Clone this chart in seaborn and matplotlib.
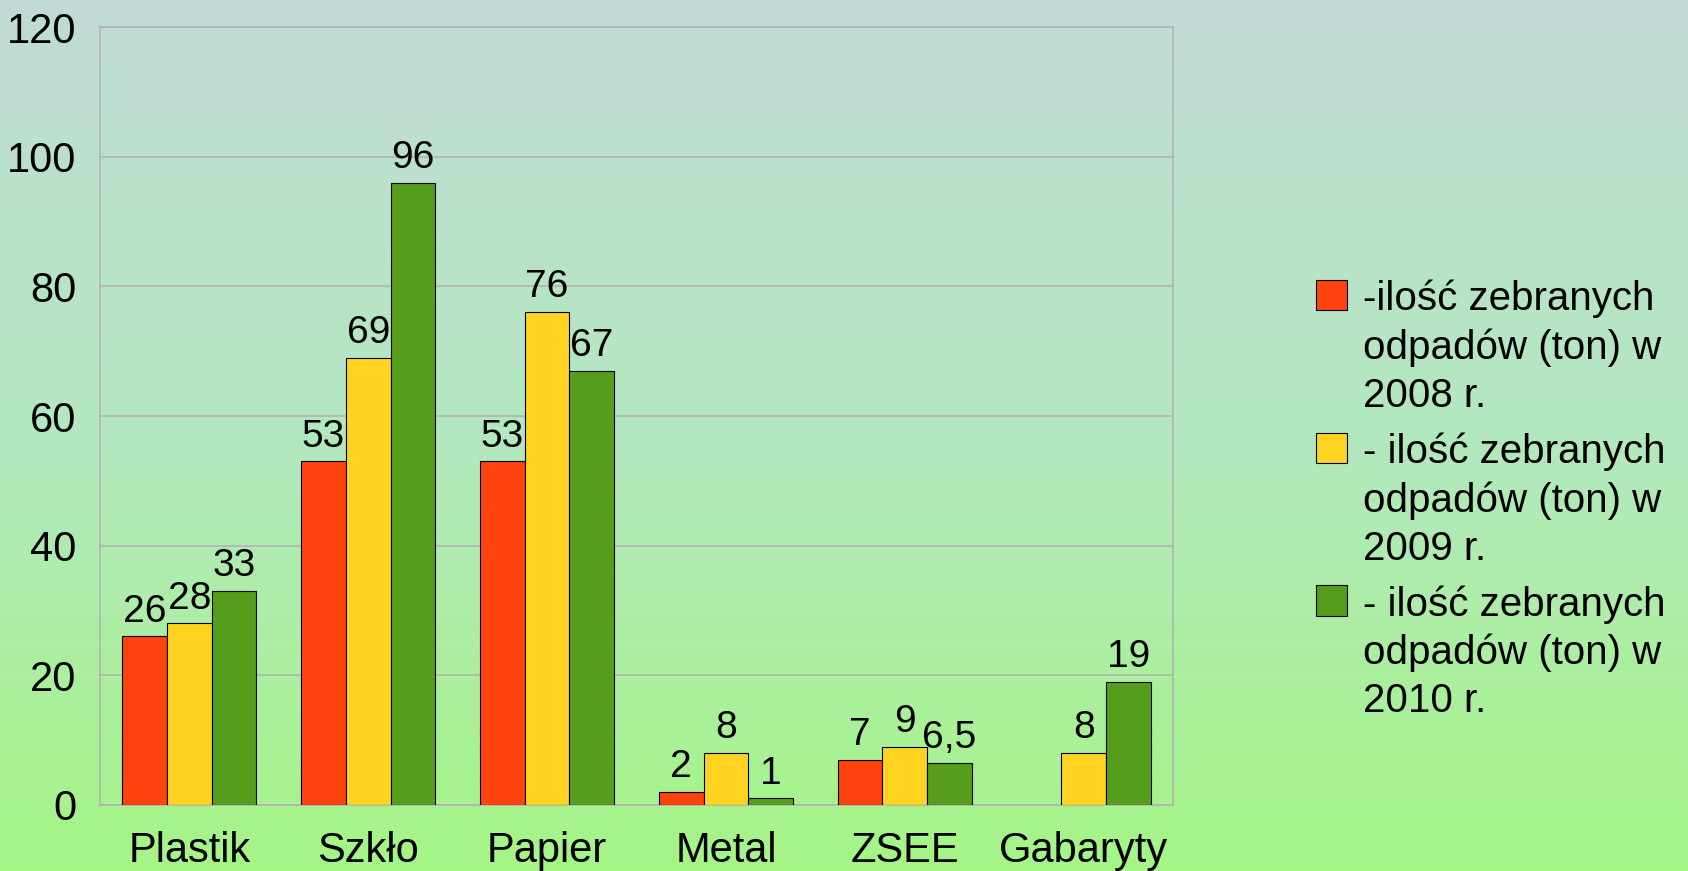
import numpy as np
import pandas as pd
import matplotlib
matplotlib.use("Agg")
import matplotlib.pyplot as plt
import seaborn as sns
from matplotlib.colors import LinearSegmentedColormap

categories = ["Plastik", "Szkło", "Papier", "Metal", "ZSEE", "Gabaryty"]
y2008 = [26, 53, 53, 2, 7, np.nan]
y2009 = [28, 69, 76, 8, 9, 8]
y2010 = [33, 96, 67, 1, 6.5, 19]
series_labels = [
    "-ilość zebranych\nodpadów (ton) w\n2008 r.",
    "- ilość zebranych\nodpadów (ton) w\n2009 r.",
    "- ilość zebranych\nodpadów (ton) w\n2010 r.",
]
colors = ["#ff420e", "#ffd320", "#579d1c"]
yticks = [0, 20, 40, 60, 80, 100, 120]

df = pd.DataFrame({
    "kategoria": categories * 3,
    "wartosc": y2008 + y2009 + y2010,
    "seria": [series_labels[0]] * 6 + [series_labels[1]] * 6 + [series_labels[2]] * 6,
})

sns.set_theme(style="white")
plt.rcParams["font.family"] = ["Liberation Sans", "DejaVu Sans"]
plt.rcParams["text.color"] = "black"

fig = plt.figure(figsize=(16.88, 8.71), dpi=100)

# background gradient (teal-grey at top to light green at bottom)
bg = fig.add_axes([0, 0, 1, 1], zorder=-10)
grad = LinearSegmentedColormap.from_list("bg", ["#c1dbd6", "#b3e8bf", "#a5f586"])
bg.imshow(np.linspace(0, 1, 256).reshape(-1, 1), aspect="auto", cmap=grad,
          extent=[0, 1, 0, 1])
bg.axis("off")

ax = fig.add_axes([0.0592, 0.0758, 0.6358, 0.893])
ax.set_facecolor("none")

sns.barplot(data=df, x="kategoria", y="wartosc", hue="seria",
            hue_order=series_labels, palette=colors, width=0.75, gap=0,
            edgecolor="black", linewidth=0.8, saturation=1, ax=ax, zorder=3)

for cont in ax.containers:
    labels = []
    for bar in cont:
        h = bar.get_height()
        labels.append("" if np.isnan(h) else f"{h:g}".replace(".", ","))
    ax.bar_label(cont, labels=labels, padding=5, fontsize=28, color="black")

ax.set_ylim(0, 120)
ax.set_xlim(-0.5, 5.5)
ax.set_yticks(yticks)
ax.yaxis.grid(True, color="#b3b3b3", linewidth=1.2, zorder=0)
ax.set_axisbelow(True)
ax.set_xlabel("")
ax.set_ylabel("")

grey = "#b3b3b3"
for s in ax.spines.values():
    s.set_color(grey)
    s.set_linewidth(1.2)

ax.tick_params(axis="y", which="major", length=11, width=1.2, color=grey,
               labelsize=30, pad=6, labelcolor="black")
ax.set_xticks(range(len(categories)))
ax.set_xticklabels(categories)
ax.set_xticks(np.arange(-0.5, 6, 1), minor=True)
ax.tick_params(axis="x", which="major", length=0, labelsize=30, pad=19,
               labelcolor="black")
ax.tick_params(axis="x", which="minor", length=11, width=1.2, color=grey)

handles, labs = ax.get_legend_handles_labels()
leg = ax.legend(handles, labs, loc="center left", bbox_to_anchor=(1.133, 0.392),
                frameon=False, fontsize=29, handlelength=0.78, handleheight=0.78,
                handletextpad=0.4, labelspacing=0.44, borderaxespad=0, borderpad=0,
                labelcolor="black")
for t in leg.get_texts():
    t.set_linespacing(1.33)
# put the colour square next to the first line of each entry
for col in leg._legend_handle_box.get_children():
    for item in col.get_children():
        item.align = "top"

fig.savefig("out.png", dpi=100)
